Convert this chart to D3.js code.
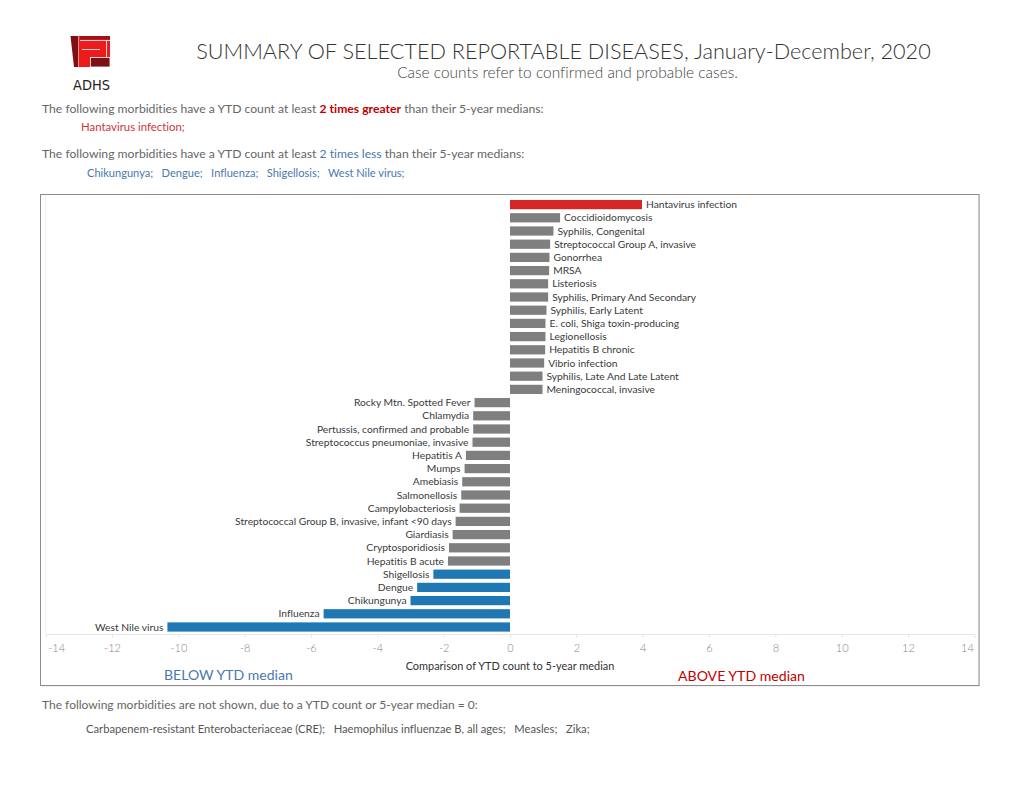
<!DOCTYPE html>
<html>
<head>
<meta charset="utf-8">
<script src="https://cdn.jsdelivr.net/npm/d3@7"></script>
<style>
  html, body { margin: 0; padding: 0; background: #fff; }
  svg { display: block; }
  text { font-variant-ligatures: none; font-feature-settings: "liga" 0; }
</style>
</head>
<body>
<svg id="chart" width="1020" height="788"></svg>
<script>
// ---------------- DATA ----------------
const categories = [
  "Hantavirus infection",
  "Coccidioidomycosis",
  "Syphilis, Congenital",
  "Streptococcal Group A, invasive",
  "Gonorrhea",
  "MRSA",
  "Listeriosis",
  "Syphilis, Primary And Secondary",
  "Syphilis, Early Latent",
  "E. coli, Shiga toxin-producing",
  "Legionellosis",
  "Hepatitis B chronic",
  "Vibrio infection",
  "Syphilis, Late And Late Latent",
  "Meningococcal, invasive",
  "Rocky Mtn. Spotted Fever",
  "Chlamydia",
  "Pertussis, confirmed and probable",
  "Streptococcus pneumoniae, invasive",
  "Hepatitis A",
  "Mumps",
  "Amebiasis",
  "Salmonellosis",
  "Campylobacteriosis",
  "Streptococcal Group B, invasive, infant <90 days",
  "Giardiasis",
  "Cryptosporidiosis",
  "Hepatitis B acute",
  "Shigellosis",
  "Dengue",
  "Chikungunya",
  "Influenza",
  "West Nile virus"
];
const values = [
  3.98, 1.51, 1.31, 1.21, 1.19, 1.18, 1.15, 1.15, 1.10, 1.07, 1.07, 1.06, 1.03, 0.98, 0.98,
  -1.07, -1.11, -1.11, -1.13, -1.33, -1.37, -1.44, -1.47, -1.52, -1.64, -1.73, -1.84, -1.87,
  -2.31, -2.80, -3.00, -5.62, -10.33
];
const greaterList = ["Hantavirus infection"];
const lessList = ["Chikungunya", "Dengue", "Influenza", "Shigellosis", "West Nile virus"];
const notShownList = ["Carbapenem-resistant Enterobacteriaceae (CRE)", "Haemophilus influenzae B, all ages", "Measles", "Zika"];
const tickValues = [-14, -12, -10, -8, -6, -4, -2, 0, 2, 4, 6, 8, 10, 12, 14];

// ---------------- SETUP ----------------
const svg = d3.select("#chart");
const FONT = "Lato, 'Open Sans', 'Noto Sans', sans-serif";
const RED = "#d62728", BLUE = "#1f77b4", GRAY = "#7f7f7f";
const TXT_RED = "#c00000", TXT_BLUE = "#4a78b0";

function fitWidth(sel, w) {
  const cur = sel.node().getComputedTextLength();
  const fs = parseFloat(sel.attr("font-size"));
  if (cur > 0) sel.attr("font-size", fs * w / cur);
  return sel;
}

svg.append("rect").attr("width", 1020).attr("height", 788).attr("fill", "#fff");

// ---------------- LOGO ----------------
const logo = svg.append("g");
logo.append("polygon").attr("points", "70.5,36 78,36 78,67 74,67").attr("fill", "#7d0f16");
logo.append("rect").attr("x", 78.5).attr("y", 36).attr("width", 31.5).attr("height", 31).attr("fill", "#ec1c1c");
logo.append("rect").attr("x", 80).attr("y", 36).attr("width", 30).attr("height", 3.5).attr("fill", "#a0121a");
logo.append("line").attr("x1", 80).attr("x2", 110).attr("y1", 40.5).attr("y2", 40.5).attr("stroke", "#fff").attr("stroke-width", 0.8);
logo.append("line").attr("x1", 106.5).attr("x2", 106.5).attr("y1", 40.5).attr("y2", 57.5).attr("stroke", "#fff").attr("stroke-width", 0.8);
logo.append("line").attr("x1", 82).attr("x2", 100).attr("y1", 49.5).attr("y2", 49.5).attr("stroke", "#fff").attr("stroke-width", 0.8);
logo.append("rect").attr("x", 90.5).attr("y", 57.5).attr("width", 19.5).attr("height", 9.5).attr("fill", "#7d0f16").attr("stroke", "#fff").attr("stroke-width", 0.8);
const adhs = svg.append("text").attr("x", 73).attr("y", 90).attr("font-family", "'Liberation Sans Narrow', 'DejaVu Sans Condensed', sans-serif")
  .attr("font-size", 14).attr("fill", "#222").text("ADHS");
fitWidth(adhs, 37);

// ---------------- TITLE ----------------
const title = svg.append("text").attr("x", 563.5).attr("y", 59).attr("text-anchor", "middle")
  .attr("font-family", FONT).attr("font-weight", 300).attr("font-size", 21).attr("fill", "#333")
  .text("SUMMARY OF SELECTED REPORTABLE DISEASES, January-December, 2020");
fitWidth(title, 735);
const sub = svg.append("text").attr("x", 567.5).attr("y", 78).attr("text-anchor", "middle")
  .attr("font-family", FONT).attr("font-weight", 300).attr("font-size", 13).attr("fill", "#444")
  .text("Case counts refer to confirmed and probable cases.");
fitWidth(sub, 341);

// ---------------- INFO LINES ----------------
function infoLine(y, emph, color, width) {
  const t = svg.append("text").attr("x", 42).attr("y", y).attr("font-family", FONT).attr("font-size", 12).attr("fill", "#666");
  t.append("tspan").text("The following morbidities have a YTD count at least ");
  t.append("tspan").attr("fill", color).attr("font-weight", emph.bold ? 700 : 400).text(emph.text);
  t.append("tspan").text(" than their 5-year medians:");
  fitWidth(t, width);
}
infoLine(113, { text: "2 times greater", bold: true }, TXT_RED, 502);
const l2 = svg.append("text").attr("x", 81).attr("y", 131).attr("font-family", FONT).attr("font-size", 11)
  .attr("fill", "#d0343a").attr("xml:space", "preserve").text(greaterList.map(d => d + ";").join("   "));
fitWidth(l2, 104);
infoLine(158, { text: "2 times less", bold: false }, TXT_BLUE, 483);
const l4 = svg.append("text").attr("x", 87).attr("y", 177).attr("font-family", FONT).attr("font-size", 11)
  .attr("fill", TXT_BLUE).attr("xml:space", "preserve").text(lessList.map(d => d + ";").join("   "));
fitWidth(l4, 318);

const l5 = svg.append("text").attr("x", 42).attr("y", 709).attr("font-family", FONT).attr("font-size", 12)
  .attr("fill", "#666").text("The following morbidities are not shown, due to a YTD count or 5-year median = 0:");
fitWidth(l5, 436);
const l6 = svg.append("text").attr("x", 86).attr("y", 733).attr("font-family", FONT).attr("font-size", 10)
  .attr("fill", "#555").attr("xml:space", "preserve").text(notShownList.map(d => d + ";").join("   "));
fitWidth(l6, 504);

// ---------------- CHART FRAME ----------------
svg.append("rect").attr("x", 41.5).attr("y", 195.5).attr("width", 938.5).attr("height", 491)
  .attr("fill", "#e8e8e8");
svg.append("rect").attr("x", 40.5).attr("y", 194.5).attr("width", 938.5).attr("height", 491)
  .attr("fill", "#fff").attr("stroke", "#8c8c8c").attr("stroke-width", 1);

const x = d3.scaleLinear().domain([-14, 14]).range([45.7, 974.3]);
const y = d3.scaleBand().domain(categories).range([198, 633.6]).paddingInner(0.3).paddingOuter(0.15);

// faint pane boundary
svg.append("line").attr("x1", x(-14)).attr("x2", x(-14)).attr("y1", 196).attr("y2", 634)
  .attr("stroke", "#f0f0f0").attr("stroke-width", 1);

function barColor(d) {
  if (greaterList.includes(d)) return RED;
  if (lessList.includes(d)) return BLUE;
  return GRAY;
}
const data = categories.map((c, i) => ({ c, v: values[i] }));

svg.append("g").selectAll("rect").data(data).join("rect")
  .attr("x", d => x(Math.min(0, d.v)))
  .attr("width", d => Math.abs(x(d.v) - x(0)))
  .attr("y", d => y(d.c))
  .attr("height", y.bandwidth())
  .attr("fill", d => barColor(d.c));

const labels = svg.append("g").selectAll("text").data(data).join("text")
  .attr("x", d => d.v >= 0 ? x(d.v) + 4 : x(d.v) - 4)
  .attr("y", d => y(d.c) + y.bandwidth() / 2)
  .attr("dy", "0.35em")
  .attr("text-anchor", d => d.v >= 0 ? "start" : "end")
  .attr("font-family", FONT).attr("font-size", 10).attr("fill", "#3a3a3a")
  .text(d => d.c);
// common label size fitted to the longest label
const longest = labels.filter(d => d.c === "Streptococcal Group B, invasive, infant <90 days");
const lw = longest.node().getComputedTextLength();
labels.attr("font-size", 10 * 217 / lw);

// ---------------- AXIS ----------------
const axis = svg.append("g").attr("transform", "translate(0,634)")
  .call(d3.axisBottom(x).tickValues(tickValues).tickSize(4).tickSizeOuter(0).tickPadding(6).tickFormat(d3.format("d")));
axis.select(".domain").attr("stroke", "#e6e6e6");
axis.selectAll(".tick line").attr("stroke", "#e6e6e6");
axis.selectAll(".tick text").attr("font-family", FONT).attr("font-weight", 300).attr("font-size", 11).attr("fill", "#888")
  .text(d => d < 0 ? "-" + Math.abs(d) : String(d));
axis.selectAll(".tick text").filter(d => d === -14).attr("text-anchor", "start").attr("x", 2);
axis.selectAll(".tick text").filter(d => d === 14).attr("text-anchor", "end").attr("x", -1);

const at = svg.append("text").attr("x", 510).attr("y", 670).attr("text-anchor", "middle")
  .attr("font-family", FONT).attr("font-size", 10).attr("fill", "#333")
  .text("Comparison of YTD count to 5-year median");
fitWidth(at, 209);

const below = svg.append("text").attr("x", 164).attr("y", 680).attr("font-family", FONT).attr("font-size", 14)
  .attr("fill", TXT_BLUE).text("BELOW YTD median");
fitWidth(below, 129);
const above = svg.append("text").attr("x", 678).attr("y", 681).attr("font-family", FONT).attr("font-size", 14)
  .attr("fill", TXT_RED).text("ABOVE YTD median");
fitWidth(above, 127);
</script>
</body>
</html>
